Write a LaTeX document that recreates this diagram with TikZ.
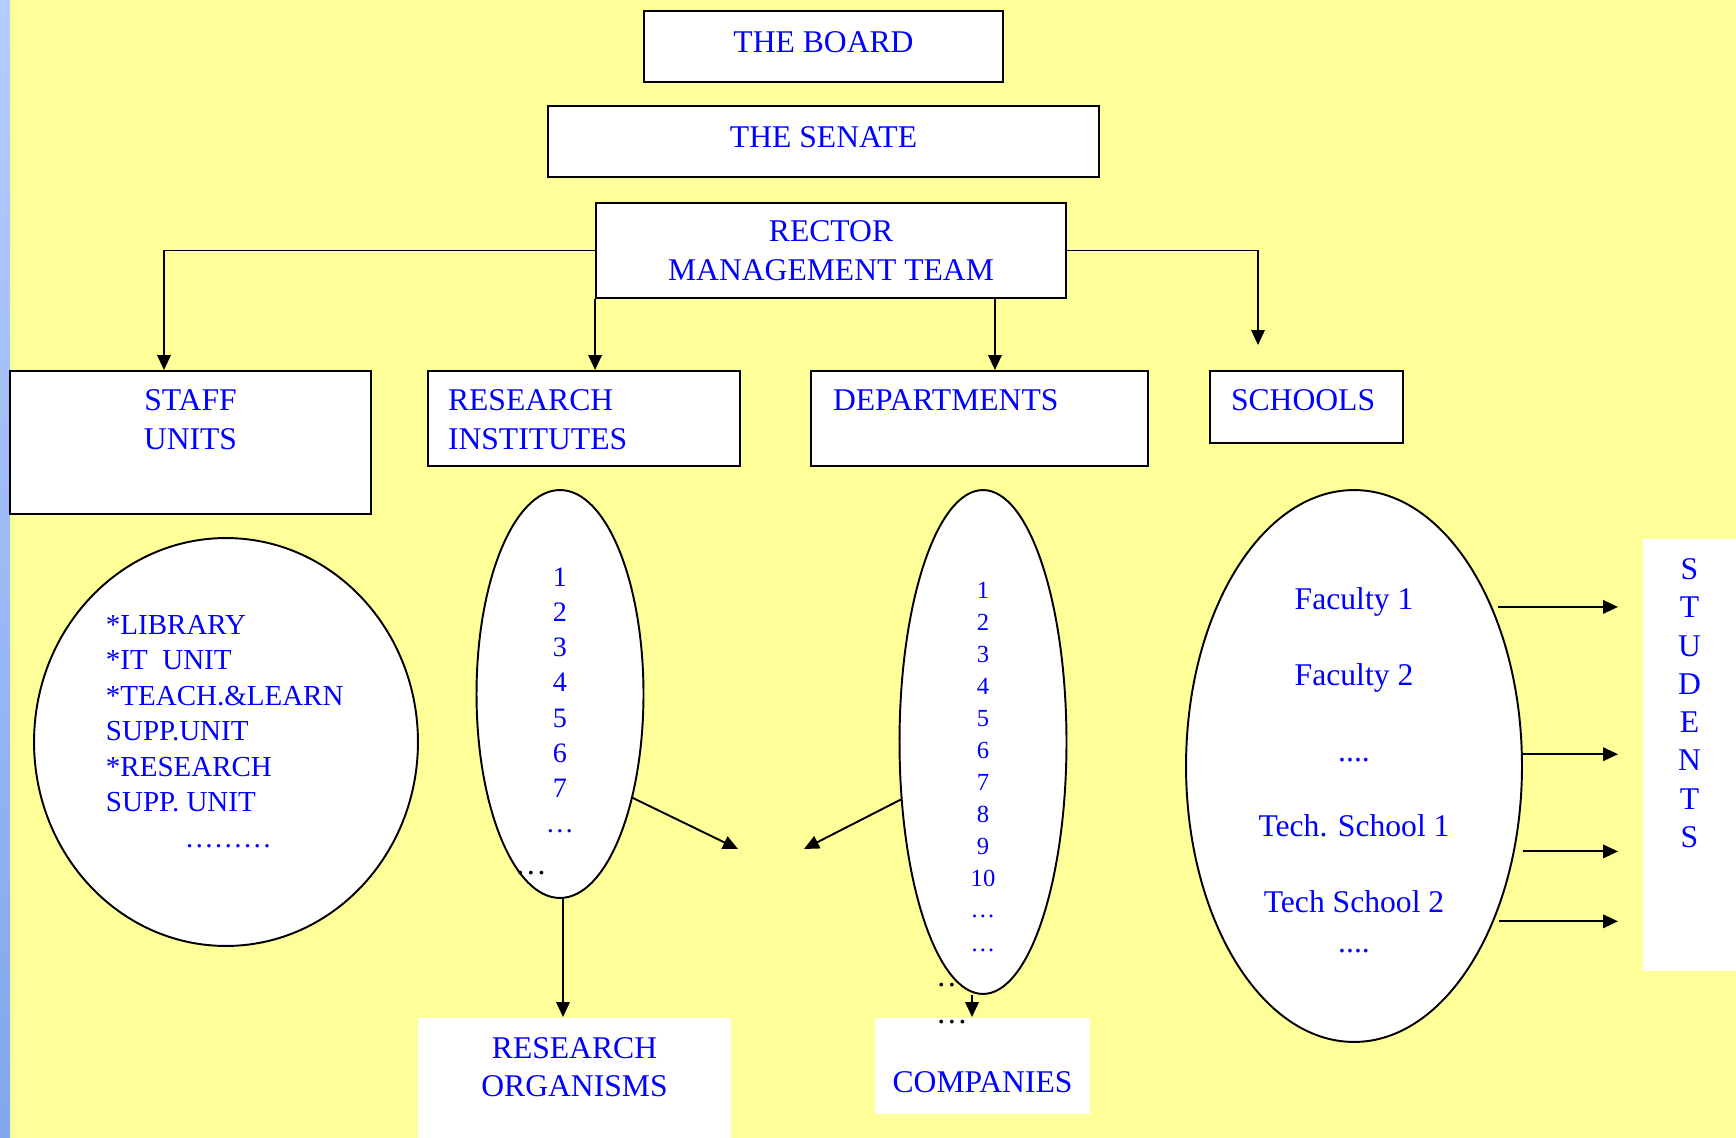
\documentclass[tikz,border=0pt]{standalone}
\usepackage{fontspec}
\setmainfont{Liberation Serif}
\usetikzlibrary{arrows.meta, positioning, shapes.geometric}

\definecolor{chartyellow}{HTML}{FFFF99}
\definecolor{striptop}{HTML}{B4CDFF}
\definecolor{stripbottom}{HTML}{82A6EC}
\definecolor{chartblue}{HTML}{0000FF}

\begin{document}
\begin{tikzpicture}[
        x=0.02cm, y=-0.02cm,
        line width=1.1pt,
        every node/.style={text=chartblue, font=\fontsize{18}{22}\selectfont},
        unitbox/.style={draw=black, fill=white, inner sep=0pt},
        whitebox/.style={fill=white, inner sep=0pt},
        oval/.style={ellipse, draw=black, fill=white, inner sep=0pt},
        >={Triangle[length=0.3cm, width=0.27cm]},
    ]
    \useasboundingbox (0,0) rectangle (1736,1138);
    \fill[chartyellow] (0,0) rectangle (1736,1138);
    \shade[top color=striptop, bottom color=stripbottom] (0,0) rectangle (10,1138);

    % top of the chart
    \node (board) [unitbox, minimum width=7.18cm, minimum height=1.42cm, text depth=0.18cm] at (823.5,46.5) {THE BOARD};
    \node (senate) [unitbox, minimum width=11.02cm, minimum height=1.42cm, text depth=0.18cm] at (823.5,141.5) {THE SENATE};
    \node (rector) [unitbox, minimum width=9.4cm, minimum height=1.9cm, align=center] at (831,250.5) {RECTOR\\MANAGEMENT TEAM};

    % units under the rector
    \node (staff) [unitbox, minimum width=7.22cm, minimum height=2.86cm] at (190.5,442.5) {};
    \node (resinst) [unitbox, minimum width=6.24cm, minimum height=1.9cm] at (584,418.5) {};
    \node (dept) [unitbox, minimum width=6.74cm, minimum height=1.9cm] at (979.5,418.5) {};
    \node (schools) [unitbox, minimum width=3.86cm, minimum height=1.44cm] at (1306.5,407) {};
    \node (stafftxt) [below=0.38cm of staff.north, align=center, inner sep=0pt] {STAFF\\UNITS};
    \node (resinsttxt) [below right=0.38cm and 0.4cm of resinst.north west, align=left, inner sep=0pt] {RESEARCH\\INSTITUTES};
    \node (depttxt) [below right=0.38cm and 0.44cm of dept.north west, inner sep=0pt] {DEPARTMENTS};
    \node (schoolstxt) [below right=0.38cm and 0.42cm of schools.north west, inner sep=0pt] {SCHOOLS};

    % ovals
    \node (staffell) [oval, minimum width=7.68cm, minimum height=8.16cm] at (226,742) {};
    \node (resell) [oval, minimum width=3.34cm, minimum height=8.16cm] at (560,694) {};
    \node (deptdots) [text=black, anchor=base] at (952,986) {…};
    \node (deptell) [oval, minimum width=3.34cm, minimum height=10.08cm] at (983,742) {};
    \node (schell) [oval, minimum width=6.72cm, minimum height=11.04cm] at (1354,766) {};

    \node (stafflist) [anchor=north west, align=left, inner sep=0pt, font=\fontsize{16.5}{20.2}\selectfont] at (105,614)
        {*LIBRARY\\*IT~~UNIT\\*TEACH.\&LEARN\\SUPP.UNIT\\*RESEARCH\\SUPP. UNIT\\\hspace*{1.58cm}………};
    \node (reslist) [anchor=north, align=center, inner sep=0pt, font=\fontsize{16}{20}\selectfont] at (560,567)
        {1\\2\\3\\4\\5\\6\\7\\…};
    \node (resdots) [text=black, anchor=base] at (531,874) {…};
    \node (deptlist) [anchor=north, align=center, inner sep=0pt, font=\fontsize{14}{18.2}\selectfont] at (983,581)
        {1\\2\\3\\4\\5\\6\\7\\8\\9\\10\\…\\[1pt]…};

    \node (fac1) [anchor=base] at (1354,609) {Faculty 1};
    \node (fac2) [anchor=base] at (1354,685) {Faculty 2};
    \node (facdots) [anchor=base] at (1354,761) {....};
    \node (tech1) [anchor=base] at (1354,836) {Tech. School 1};
    \node (tech2) [anchor=base] at (1354,912) {Tech School 2};
    \node (techdots) [anchor=base] at (1354,952) {....};

    % outside partners
    \node (resorg) [whitebox, minimum width=6.26cm, minimum height=2.4cm] at (574.5,1078) {};
    \node (resorgtxt) [below=0.39cm of resorg.north, align=center, inner sep=0pt, font=\fontsize{18}{21.6}\selectfont] {RESEARCH\\ORGANISMS};
    \node (comp) [whitebox, minimum width=4.3cm, minimum height=1.92cm] at (982.5,1066) {};
    \node (comptxt) [below=1.08cm of comp.north, inner sep=0pt] {COMPANIES};
    \node (compdots) [text=black, anchor=base] at (952,1023) {…};
    \node (students) [whitebox, minimum width=1.86cm, minimum height=8.64cm] at (1689.5,755) {};
    \node (studtxt) [below=0.39cm of students.north, align=center, inner sep=0pt, font=\fontsize{18}{21.8}\selectfont] {S\\T\\U\\D\\E\\N\\T\\S};

    % arrows
    \coordinate (stafftop) at ([xshift=-0.53cm]staff.north);
    \coordinate (rdep) at ([xshift=-1.44cm]rector.south east);
    \coordinate (schtip) at (1258,345);
    \draw[->] (rector.west) -| (stafftop);
    \draw[->] (rector.south west) -- (rector.south west |- resinst.north);
    \draw[->] (rdep) -- (rdep |- dept.north);
    \draw[->] (rector.east) -| (schtip);

    \coordinate (restip) at (738,849);
    \coordinate (depttip) at (804,849);
    \draw[->] (resell.-55) -- (restip);
    \draw[->] (deptell.215) -- (depttip);

    \coordinate (resfoot) at ([xshift=0.06cm]resell.south);
    \coordinate (deptfoot) at ([xshift=-0.22cm]deptell.south);
    \draw[->] (resfoot) -- (resfoot |- resorg.north);
    \draw[->] (deptfoot) -- (deptfoot |- comp.north);

    \coordinate (studtip) at (1618,766);
    \foreach \a/\dx in {49/0.12,4/0,-28/0.16,-48/0.1} {
        \coordinate (sfrom) at ([xshift=\dx cm]schell.\a);
        \draw[->] (sfrom) -- (sfrom -| studtip);
    }
\end{tikzpicture}
\end{document}
